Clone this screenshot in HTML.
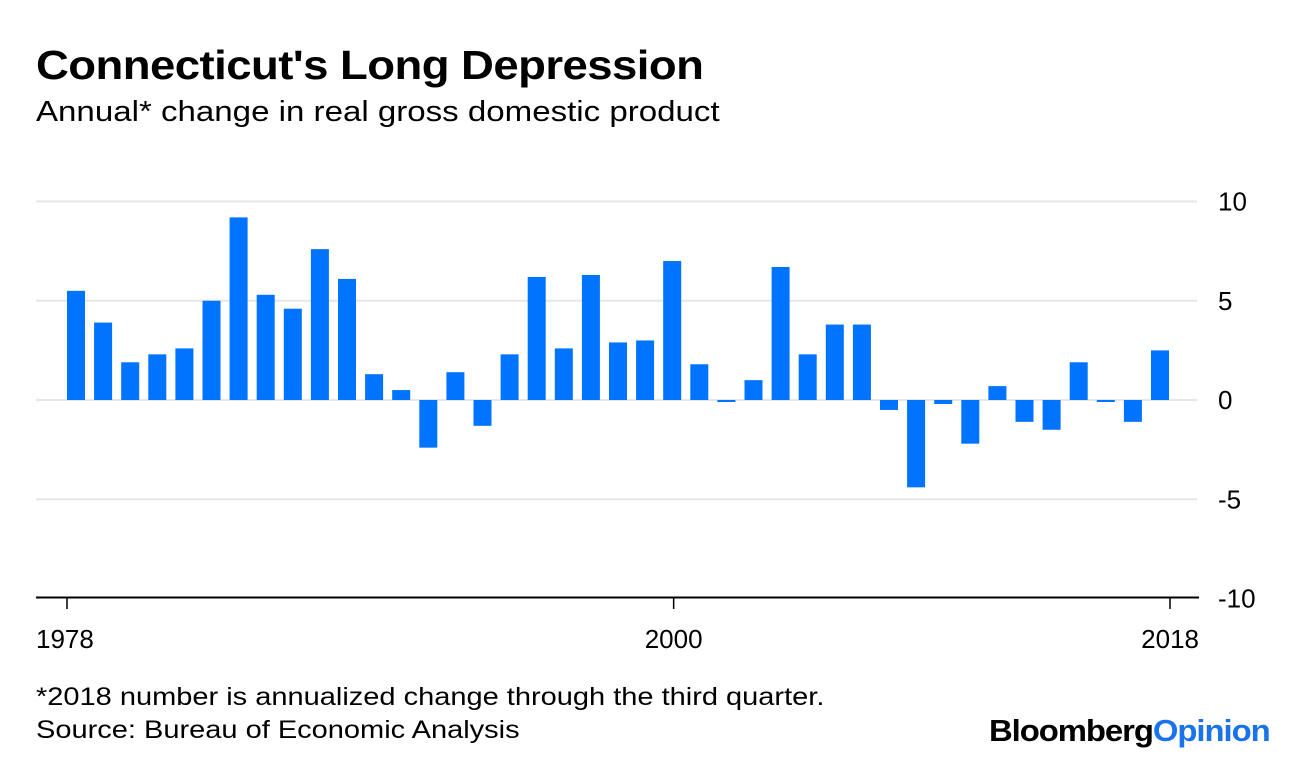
<!DOCTYPE html>
<html><head><meta charset="utf-8"><style>
body{margin:0;background:#fff;width:1296px;height:764px;overflow:hidden;font-family:"Liberation Sans",sans-serif;}
.t{position:absolute;color:#000;white-space:nowrap;transform-origin:0 0;}
</style></head><body>
<div class="t" style="left:36px;top:42px;font-size:41px;font-weight:bold;letter-spacing:-0.5px;transform:scaleX(1.11);">Connecticut's Long Depression</div>
<div class="t" style="left:36px;top:96px;font-size:29px;transform:scaleX(1.14);">Annual* change in real gross domestic product</div>
<svg id="chart" width="1296" height="764" style="position:absolute;left:0;top:0;"></svg>
<div class="t" style="left:36px;top:683px;font-size:25px;transform:scaleX(1.16);">*2018 number is annualized change through the third quarter.</div>
<div class="t" style="left:36px;top:716px;font-size:25px;transform:scaleX(1.16);">Source: Bureau of Economic Analysis</div>
<div class="t" style="left:989px;top:713px;font-size:31px;font-weight:bold;letter-spacing:-1px;transform:scaleX(1.06);">Bloomberg<span style="color:#1a73e8;">Opinion</span></div>
<script>
const years = [1978,1979,1980,1981,1982,1983,1984,1985,1986,1987,1988,1989,1990,1991,1992,1993,1994,1995,1996,1997,1998,1999,2000,2001,2002,2003,2004,2005,2006,2007,2008,2009,2010,2011,2012,2013,2014,2015,2016,2017,2018];
const values = [5.5,3.9,1.9,2.3,2.6,5.0,9.2,5.3,4.6,7.6,6.1,1.3,0.5,-2.4,1.4,-1.3,2.3,6.2,2.6,6.3,2.9,3.0,7.0,1.8,-0.1,1.0,6.7,2.3,3.8,3.8,-0.5,-4.4,-0.2,-2.2,0.7,-1.1,-1.5,1.9,-0.1,-1.1,2.5];
const yTicks = [10,5,0,-5,-10];
const yTickLabels = ["10","5","0","-5","-10"];
const xTicks = [1978,2000,2018];
const xTickLabels = ["1978","2000","2018"];

const NS="http://www.w3.org/2000/svg";
const svg=document.getElementById('chart');
const y=v=>400-v*19.85;
const xl=yr=>67+(yr-1978)*27.1;
const xt=yr=>67+(yr-1978)*(1170-67)/40;
const bw=18;
function mk(tag,attrs){const e=document.createElementNS(NS,tag);for(const k in attrs)e.setAttribute(k,attrs[k]);svg.appendChild(e);return e;}
yTicks.forEach((t,i)=>{
  if(t!==-10){
    const g=mk('line',{x1:36,x2:1197,y1:y(t),y2:y(t),stroke:'#e6e6e6','stroke-width':2});
    
    
  }
  const tx=mk('text',{x:1218,y:y(t)+9,'font-size':26,'font-family':'Liberation Sans, sans-serif',fill:'#000'});
  tx.textContent=yTickLabels[i];
  
  
});
values.forEach((v,i)=>{
  const top=Math.min(y(v),y(0)),h=Math.abs(y(v)-y(0));
  const r=mk('rect',{x:xl(years[i]),y:top,width:bw,height:Math.max(h,1.5),fill:'#0073ff'});
  
  
});
const ax=mk('line',{x1:36,x2:1199,y1:597.5,y2:597.5,stroke:'#000','stroke-width':2});


xTicks.forEach((yr,i)=>{
  const px=xt(yr);
  const tk=mk('line',{x1:px,x2:px,y1:597,y2:609,stroke:'#000','stroke-width':1.5});
  
  
  const anchor=i===0?'start':(i===xTicks.length-1?'end':'middle');
  const lx=i===0?36:(i===xTicks.length-1?1199:px);
  const tx=mk('text',{x:lx,y:648,'font-size':26,'font-family':'Liberation Sans, sans-serif','text-anchor':anchor,fill:'#000'});
  tx.textContent=xTickLabels[i];
  
  
});
</script>
</body></html>
